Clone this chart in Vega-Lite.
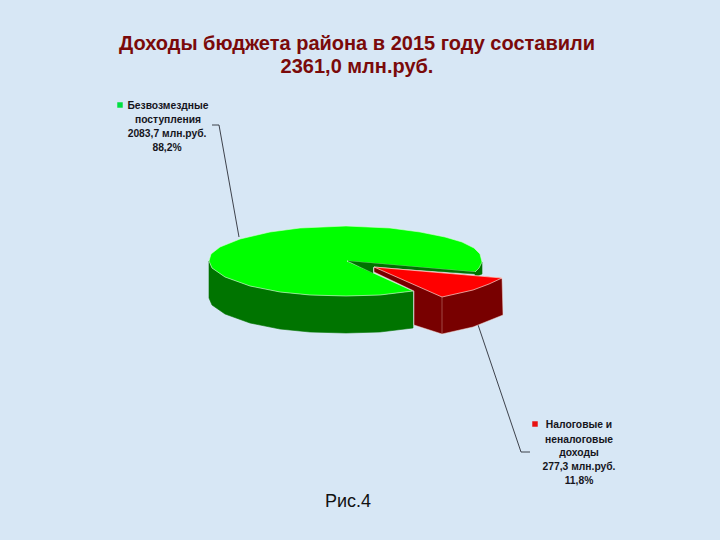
{"$schema":"https://vega.github.io/schema/vega-lite/v6.json","width":720,"height":540,"padding":0,"autosize":{"type":"fit","contains":"padding"},"background":"#d7e7f5","config":{"view":{"stroke":null}},
"datasets":{"shapes":[
{"s":"lead1","i":0,"x":212,"y":125},{"s":"lead1","i":1,"x":219,"y":125},{"s":"lead1","i":2,"x":239,"y":237},
{"s":"lead2","i":0,"x":473,"y":310},{"s":"lead2","i":1,"x":521,"y":452},{"s":"lead2","i":2,"x":530,"y":452},
{"s":"greenSide","i":0,"x":209,"y":261},{"s":"greenSide","i":1,"x":212,"y":268},{"s":"greenSide","i":2,"x":225,"y":277},{"s":"greenSide","i":3,"x":250,"y":286},{"s":"greenSide","i":4,"x":280,"y":292},{"s":"greenSide","i":5,"x":310,"y":295},{"s":"greenSide","i":6,"x":346,"y":296},{"s":"greenSide","i":7,"x":380,"y":295},{"s":"greenSide","i":8,"x":413,"y":291},{"s":"greenSide","i":9,"x":413,"y":328},{"s":"greenSide","i":10,"x":380,"y":332},{"s":"greenSide","i":11,"x":346,"y":333},{"s":"greenSide","i":12,"x":310,"y":332},{"s":"greenSide","i":13,"x":280,"y":329},{"s":"greenSide","i":14,"x":250,"y":323},{"s":"greenSide","i":15,"x":225,"y":314},{"s":"greenSide","i":16,"x":212,"y":305},{"s":"greenSide","i":17,"x":209,"y":298},{"s":"greenSide","i":18,"x":209,"y":261},
{"s":"greenRight","i":0,"x":475,"y":272},{"s":"greenRight","i":1,"x":482,"y":262},{"s":"greenRight","i":2,"x":482,"y":274},{"s":"greenRight","i":3,"x":475,"y":277},{"s":"greenRight","i":4,"x":475,"y":272},
{"s":"greenTop","i":0,"x":347,"y":261},{"s":"greenTop","i":1,"x":475,"y":272},{"s":"greenTop","i":2,"x":479,"y":268},{"s":"greenTop","i":3,"x":482,"y":262},{"s":"greenTop","i":4,"x":480,"y":254},{"s":"greenTop","i":5,"x":474,"y":248},{"s":"greenTop","i":6,"x":462,"y":242},{"s":"greenTop","i":7,"x":445,"y":237},{"s":"greenTop","i":8,"x":420,"y":232},{"s":"greenTop","i":9,"x":390,"y":228},{"s":"greenTop","i":10,"x":346,"y":226},{"s":"greenTop","i":11,"x":300,"y":228},{"s":"greenTop","i":12,"x":270,"y":232},{"s":"greenTop","i":13,"x":240,"y":239},{"s":"greenTop","i":14,"x":220,"y":247},{"s":"greenTop","i":15,"x":211,"y":254},{"s":"greenTop","i":16,"x":209,"y":261},{"s":"greenTop","i":17,"x":212,"y":268},{"s":"greenTop","i":18,"x":225,"y":277},{"s":"greenTop","i":19,"x":250,"y":286},{"s":"greenTop","i":20,"x":280,"y":292},{"s":"greenTop","i":21,"x":310,"y":295},{"s":"greenTop","i":22,"x":346,"y":296},{"s":"greenTop","i":23,"x":380,"y":295},{"s":"greenTop","i":24,"x":413,"y":291},{"s":"greenTop","i":25,"x":347,"y":261},
{"s":"greenInner","i":0,"x":348,"y":261},{"s":"greenInner","i":1,"x":475,"y":272},{"s":"greenInner","i":2,"x":475,"y":274},{"s":"greenInner","i":3,"x":373,"y":267},{"s":"greenInner","i":4,"x":373,"y":273},{"s":"greenInner","i":5,"x":348,"y":261},
{"s":"redSide","i":0,"x":374,"y":267},{"s":"redSide","i":1,"x":502,"y":278},{"s":"redSide","i":2,"x":503,"y":315},{"s":"redSide","i":3,"x":473,"y":327},{"s":"redSide","i":4,"x":442,"y":334},{"s":"redSide","i":5,"x":414,"y":325},{"s":"redSide","i":6,"x":414,"y":291},{"s":"redSide","i":7,"x":374,"y":272},{"s":"redSide","i":8,"x":374,"y":267},
{"s":"redTop","i":0,"x":374,"y":267},{"s":"redTop","i":1,"x":502,"y":278},{"s":"redTop","i":2,"x":489,"y":284},{"s":"redTop","i":3,"x":473,"y":290},{"s":"redTop","i":4,"x":442,"y":297},{"s":"redTop","i":5,"x":374,"y":267},
{"s":"redEdge","i":0,"x":442,"y":297},{"s":"redEdge","i":1,"x":442,"y":334}
],
"labels":[
{"t":"Доходы бюджета района в 2015 году составили","x":357,"y":44,"g":"title"},{"t":"2361,0 млн.руб.","x":357,"y":67,"g":"title"},
{"t":"Рис.4","x":348,"y":502,"g":"caption"},
{"t":"Безвозмездные","x":168,"y":106,"g":"label"},{"t":"поступления","x":168,"y":120,"g":"label"},{"t":"2083,7 млн.руб.","x":167,"y":134,"g":"label"},{"t":"88,2%","x":167,"y":148,"g":"label"},
{"t":"Налоговые и","x":579,"y":425,"g":"label"},{"t":"неналоговые","x":579,"y":440,"g":"label"},{"t":"доходы","x":579,"y":453,"g":"label"},{"t":"277,3 млн.руб.","x":579,"y":467,"g":"label"},{"t":"11,8%","x":579,"y":481,"g":"label"}
],
"keys":[{"name":"Безвозмездные поступления","value":2083.7,"x":120,"y":105},{"name":"Налоговые и неналоговые доходы","value":277.3,"x":535,"y":424}]},
"encoding":{"x":{"field":"x","type":"quantitative","scale":{"domain":[0,720],"nice":false,"zero":false},"axis":null},"y":{"field":"y","type":"quantitative","scale":{"domain":[540,0],"nice":false,"zero":false},"axis":null}},
"layer":[
{"data":{"name":"shapes"},"transform":[{"filter":"datum.s==='lead1'||datum.s==='lead2'"}],"mark":{"type":"line","stroke":"#2b2f38","strokeWidth":0.9},"encoding":{"detail":{"field":"s"},"order":{"field":"i","type":"quantitative"}}},
{"data":{"name":"shapes"},"transform":[{"filter":"datum.s==='greenSide'"}],"mark":{"type":"line","fill":"#007400","stroke":"#007400","strokeWidth":0.6},"encoding":{"order":{"field":"i","type":"quantitative"}}},
{"data":{"name":"shapes"},"transform":[{"filter":"datum.s==='greenRight'"}],"mark":{"type":"line","fill":"#007400","stroke":"#007400","strokeWidth":0.6},"encoding":{"order":{"field":"i","type":"quantitative"}}},
{"data":{"name":"shapes"},"transform":[{"filter":"datum.s==='greenTop'"}],"mark":{"type":"line","fill":"#00ff00","stroke":"#d8ffd8","strokeWidth":0.6},"encoding":{"order":{"field":"i","type":"quantitative"}}},
{"data":{"name":"shapes"},"transform":[{"filter":"datum.s==='greenInner'"}],"mark":{"type":"line","fill":"#007400","stroke":"#007400","strokeWidth":0.4},"encoding":{"order":{"field":"i","type":"quantitative"}}},
{"data":{"name":"shapes"},"transform":[{"filter":"datum.s==='redSide'"}],"mark":{"type":"line","fill":"#780000","stroke":"#f4d8d0","strokeWidth":0.5},"encoding":{"order":{"field":"i","type":"quantitative"}}},
{"data":{"name":"shapes"},"transform":[{"filter":"datum.s==='redEdge'"}],"mark":{"type":"line","stroke":"#c89088","strokeWidth":0.5},"encoding":{"order":{"field":"i","type":"quantitative"}}},
{"data":{"name":"shapes"},"transform":[{"filter":"datum.s==='redTop'"}],"mark":{"type":"line","fill":"#ff0000","stroke":"#ffd8d0","strokeWidth":0.7},"encoding":{"order":{"field":"i","type":"quantitative"}}},
{"data":{"name":"keys"},"mark":{"type":"square","size":30,"opacity":1,"filled":true},"encoding":{"color":{"field":"name","type":"nominal","scale":{"domain":["Безвозмездные поступления","Налоговые и неналоговые доходы"],"range":["#00e040","#e81010"]},"legend":null}}},
{"data":{"name":"labels"},"transform":[{"filter":"datum.g==='title'"}],"mark":{"type":"text","font":"Liberation Sans","fontSize":20,"fontWeight":"bold","fill":"#7a0a0a","align":"center","baseline":"middle"},"encoding":{"text":{"field":"t"}}},
{"data":{"name":"labels"},"transform":[{"filter":"datum.g==='caption'"}],"mark":{"type":"text","font":"Liberation Sans","fontSize":18,"fill":"#111111","align":"center","baseline":"middle"},"encoding":{"text":{"field":"t"}}},
{"data":{"name":"labels"},"transform":[{"filter":"datum.g==='label'"}],"mark":{"type":"text","font":"Liberation Sans","fontSize":10.3,"fontWeight":"bold","fill":"#15151c","align":"center","baseline":"middle"},"encoding":{"text":{"field":"t"}}}
]}
